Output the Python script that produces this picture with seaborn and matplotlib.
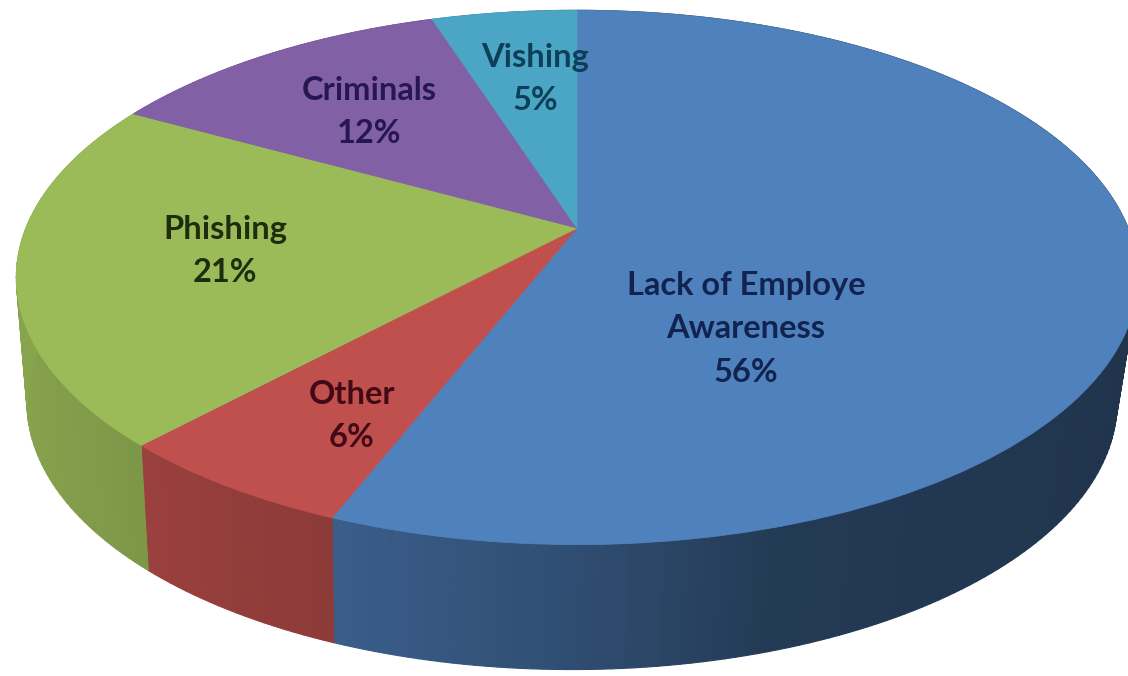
import numpy as np
import matplotlib
matplotlib.use("Agg")
import matplotlib.pyplot as plt
from matplotlib.collections import PolyCollection
from matplotlib.transforms import Transform
import seaborn as sns

# Slices, clockwise from twelve o'clock
categories = ["Lack of Employe\nAwareness", "Other", "Phishing", "Criminals", "Vishing"]
shares = [56, 6, 21, 12, 5]

# Styling
top_colors = ["#4F81BD", "#C0504D", "#9BBB59", "#8260A6", "#4BA6C6"]
text_colors = ["#12234F", "#420916", "#1C2E0E", "#261750", "#0D4058"]
label_centres = [(746, 329), (352, 416), (225, 251), (369, 112), (535, 79)]

FIG_W, FIG_H = 1128, 676
TILT = 0.185
RIM_TOP = dict(ax=577.0, ay=228.0, sx=551.0, sy=258.0)
RIM_BOTTOM = dict(ax=572.0, ay=353.0, sx=535.6, sy=258.0)


def project(x, y, ax, ay, sx, sy):
    """Perspective view of the unit disc, returned in canvas pixels."""
    w = 1.0 + TILT * y
    return ax + sx * x / w, ay - sy * y / w


class DiscPerspective(Transform):
    input_dims = output_dims = 2

    def transform_non_affine(self, values):
        xs, ys = project(values[:, 0], values[:, 1], **RIM_TOP)
        return np.column_stack([xs, ys])


def wall_shade(u):
    """Lighting of the outer wall, falling off from left to right."""
    return np.interp(u, [-1.0, -0.37, 0.0, 0.3, 1.0], [0.88, 0.73, 0.60, 0.45, 0.40])


sns.set_theme(style="white")
plt.rcParams["font.family"] = ["Lato", "DejaVu Sans"]

fig = plt.figure(figsize=(FIG_W / 100, FIG_H / 100), dpi=100)
ax = fig.add_axes([0, 0, 1, 1])

# Top face: an ordinary pie whose wedges pass through the perspective
wedges, _ = ax.pie(shares, colors=top_colors, startangle=90, counterclock=False)
disc = DiscPerspective()
for wedge, colour in zip(wedges, top_colors):
    wedge.set_transform(disc + ax.transData)
    wedge.set_zorder(3)
    wedge.set_clip_on(True)
    wedge.set_edgecolor(colour)
    wedge.set_linewidth(0.6)

ax.set_aspect("auto")
ax.set_xlim(0, FIG_W)
ax.set_ylim(FIG_H, 0)
ax.axis("off")

# Outer wall: narrow quads between the upper and lower rim of each slice
edges = np.concatenate([[0.0], np.cumsum(shares)]) / np.sum(shares) * 2 * np.pi
for start, stop, colour in zip(edges[:-1], edges[1:], top_colors):
    steps = max(int(np.degrees(stop - start)), 2)
    thetas = np.linspace(start, stop, steps + 1)
    quads, shades = [], []
    base = np.array(matplotlib.colors.to_rgb(colour))
    for a, b in zip(thetas[:-1], thetas[1:]):
        ua, va, ub, vb = np.sin(a), np.cos(a), np.sin(b), np.cos(b)
        quads.append([
            project(ua, va, **RIM_TOP),
            project(ub, vb, **RIM_TOP),
            project(ub, vb, **RIM_BOTTOM),
            project(ua, va, **RIM_BOTTOM),
        ])
        shades.append(base * wall_shade((ua + ub) / 2))
    ax.add_collection(PolyCollection(quads, facecolors=shades, edgecolors=shades,
                                     linewidths=0.8, zorder=2))

# Slice captions
for name, share, colour, (x, y) in zip(categories, shares, text_colors, label_centres):
    ax.text(x, y, f"{name}\n{share}%", ha="center", va="center", color=colour,
            fontsize=23.5, fontweight="bold", linespacing=1.6, zorder=4)

fig.savefig("out.png", dpi=100, facecolor="white")
